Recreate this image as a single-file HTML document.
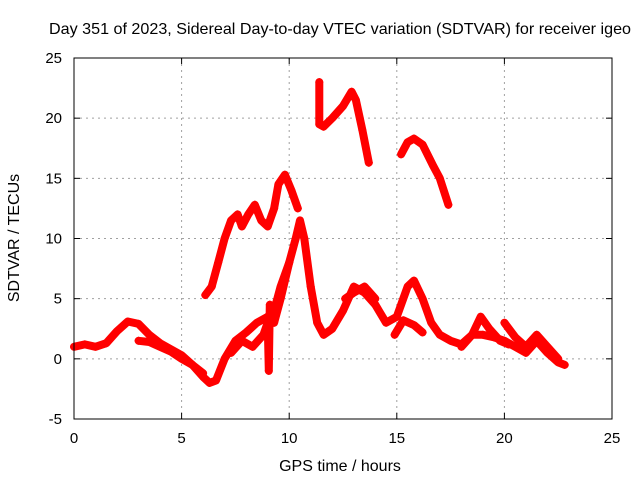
<!DOCTYPE html>
<html><head><meta charset="utf-8"><style>
body{margin:0;background:#fff}
svg{display:block;font-family:"Liberation Sans",sans-serif}
</style></head><body>
<svg id="c" width="640" height="480">
<text x="340" y="34" text-anchor="middle" font-size="16" textLength="582" lengthAdjust="spacingAndGlyphs">Day 351 of 2023, Sidereal Day-to-day VTEC variation (SDTVAR) for receiver igeo</text>
<text x="340" y="471" text-anchor="middle" font-size="16">GPS time / hours</text>
<text transform="translate(19,238) rotate(-90)" text-anchor="middle" font-size="16">SDTVAR / TECUs</text>
<g id="grid"></g><g id="marks"></g>
<rect x="74" y="58" width="538" height="361" fill="none" stroke="#000" stroke-width="1"/>
</svg>
<script>
const xTicks=[0,5,10,15,20,25];
const yTicks=[-5,0,5,10,15,20,25];
const mainT=[0,0.5,1,1.5,2,2.5,3,3.5,4,4.5,5,5.5,6,6.3,6.6,7,7.5,8,8.5,9,9.3,9.6,10,10.3,10.5,10.7,11,11.3,11.6,12,12.5,13,13.5,14,14.5,15,15.5,15.8,16.2,16.6,17,17.5,18,18.5,19,19.5,20,20.5,21,21.5,22,22.5,22.8];
const mainV=[1,1.2,1,1.3,2.3,3.1,2.9,2,1.3,0.8,0.3,-0.5,-1.5,-2,-1.8,0,1.5,2.2,3,3.5,4,6,8,10,11.5,10,6,3,2,2.5,4,6,5.5,4.5,3,3.5,6,6.5,5,3,2,1.5,1.2,2,2,1.8,1.5,1,0.5,1.5,0.5,-0.3,-0.5];
const b1T=[3,3.5,4,4.5,5,5.5,6];const b1V=[1.5,1.4,1,0.6,0,-0.5,-1.2];
const b2T=[7.3,7.8,8.3,8.8,9,9.05,9.1,9.3,9.6,10];const b2V=[0.5,1.5,1,2,3,-1,4.5,3,5,8];
const b3T=[12.6,13,13.5,14];const b3V=[5,5.5,6,5];
const b4T=[14.9,15.3,15.8,16.2];const b4V=[2,3.2,2.8,2.2];
const b5T=[18,18.5,18.9,19.3,19.8,20.2];const b5V=[1,2,3.5,2.5,1.5,1.2];
const b6T=[20,20.5,21,21.5,22,22.5];const b6V=[3,1.8,1,2,1,0];
const upT=[6.1,6.4,6.7,7,7.3,7.6,7.8,8.1,8.4,8.7,9,9.3,9.5,9.8,10.1,10.4];
const upV=[5.3,6,8,10,11.5,12,11,12,12.8,11.5,11,12.5,14.5,15.3,14,12.5];
const cT=[11.4,11.4,11.6,12,12.5,12.9,13.1,13.4,13.7];const cV=[23,19.5,19.3,20,21,22.2,21.5,19,16.3];
const dT=[15.2,15.5,15.8,16.2,16.7,17,17.4];const dV=[17,18,18.3,17.8,16,15,12.8];
const NS='http://www.w3.org/2000/svg';
const X=t=>74+t*538/25, Y=v=>58+(25-v)*361/30;
const grid=document.getElementById('grid'),marks=document.getElementById('marks');
function mk(tag,attrs,parent){const e=document.createElementNS(NS,tag);for(const k in attrs)e.setAttribute(k,attrs[k]);parent.appendChild(e);return e;}
xTicks.forEach(t=>{
 if(t>0&&t<25){const g=mk('line',{x1:X(t),x2:X(t),y1:58,y2:419,stroke:'#a0a0a0','stroke-dasharray':'2,4'},grid);}
 mk('line',{x1:X(t),x2:X(t),y1:419,y2:413,stroke:'#000'},grid);mk('line',{x1:X(t),x2:X(t),y1:58,y2:64,stroke:'#000'},grid);
 const l=mk('text',{x:X(t),y:443,'text-anchor':'middle','font-size':15},grid);l.textContent=t;
 
});
yTicks.forEach(v=>{
 if(v>-5&&v<25){const g=mk('line',{x1:74,x2:612,y1:Y(v),y2:Y(v),stroke:'#a0a0a0','stroke-dasharray':'2,4'},grid);}
 mk('line',{x1:74,x2:80,y1:Y(v),y2:Y(v),stroke:'#000'},grid);mk('line',{x1:606,x2:612,y1:Y(v),y2:Y(v),stroke:'#000'},grid);
 const l=mk('text',{x:62,y:Y(v)+5,'text-anchor':'end','font-size':15},grid);l.textContent=v;
 
});
function series(T,V,name){
 const pts=T.map((t,i)=>X(t).toFixed(1)+','+Y(V[i]).toFixed(1)).join(' ');
 const p=mk('polyline',{points:pts,fill:'none',stroke:'#f00','stroke-width':8,'stroke-linejoin':'round','stroke-linecap':'round'},marks);
 
 
 T.forEach((t,i)=>{const x=X(t),y=Y(V[i]);mk('path',{d:`M${x-4},${y}h8M${x},${y-4}v8`,stroke:'#f00','stroke-width':1.2},marks);});
}
series(mainT,mainV,'sdtvar-main-series');
series(b1T,b1V,'sdtvar-branch-1');series(b2T,b2V,'sdtvar-branch-2');series(b3T,b3V,'sdtvar-branch-3');
series(b4T,b4V,'sdtvar-branch-4');series(b5T,b5V,'sdtvar-branch-5');series(b6T,b6V,'sdtvar-branch-6');
series(upT,upV,'sdtvar-upper-series');series(cT,cV,'sdtvar-high-arc-1');series(dT,dV,'sdtvar-high-arc-2');
</script>
</body></html>
